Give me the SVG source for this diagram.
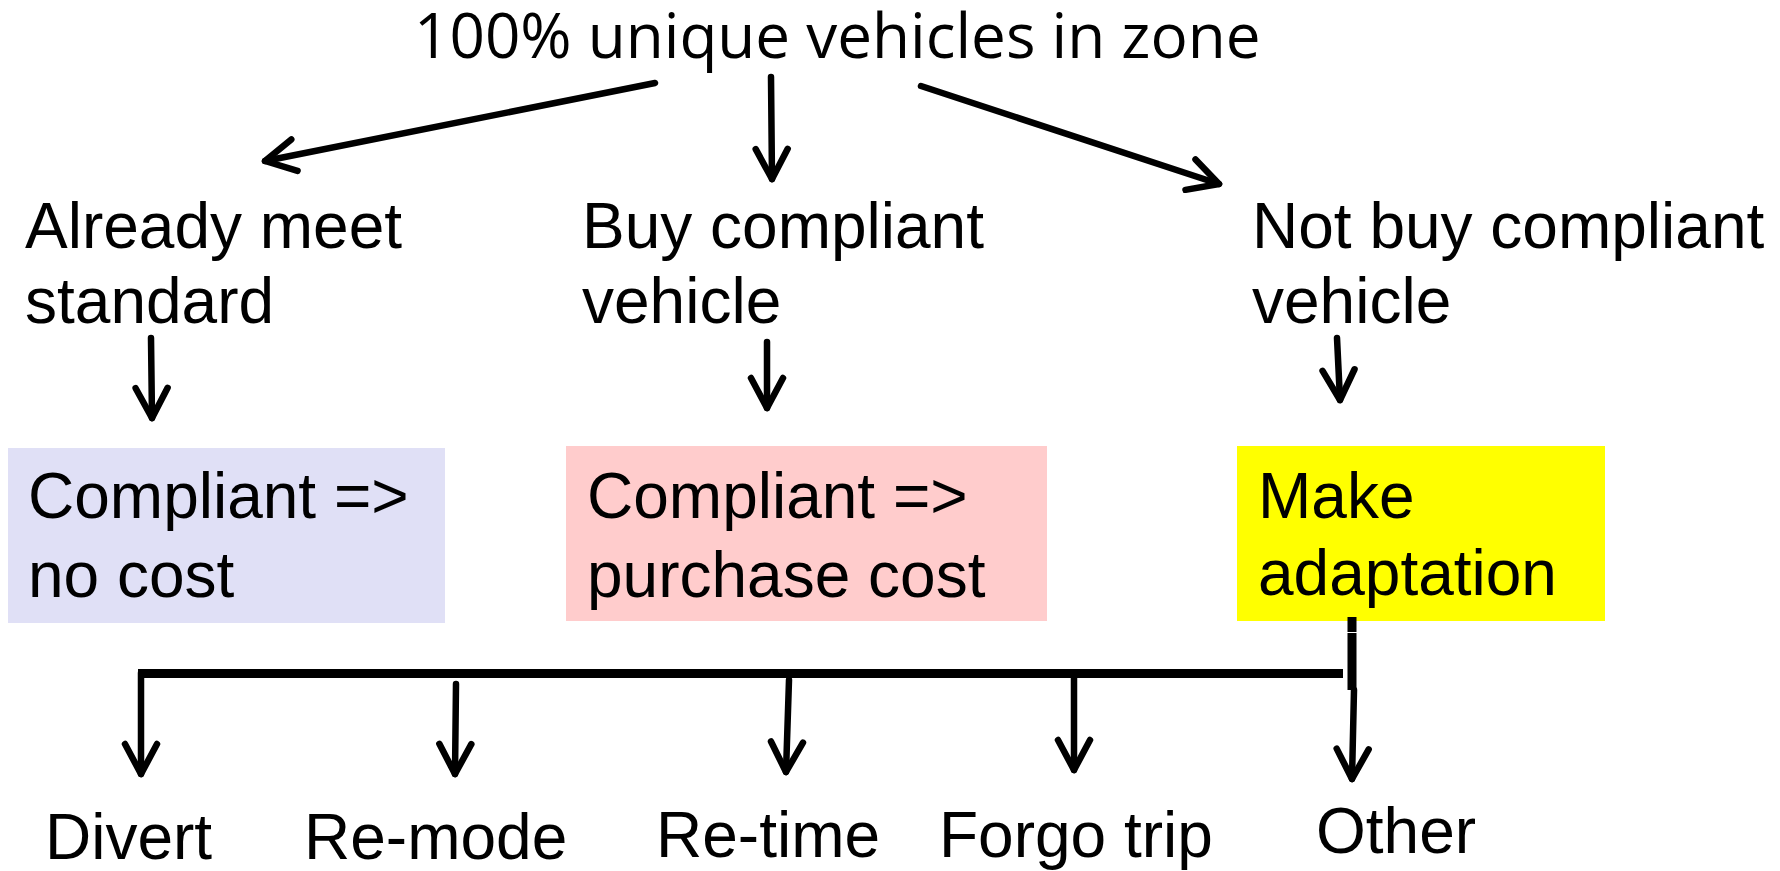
<svg xmlns="http://www.w3.org/2000/svg" width="1780" height="871" viewBox="0 0 1780 871">
<style>
text { font-family: "Liberation Sans", Arial, sans-serif; font-size: 64px; fill: #000; }
.title { font-family: "Open Sans", "Liberation Sans", sans-serif; font-size: 62px; }
.arrow { stroke: #000; stroke-width: 6.5; fill: none; stroke-linecap: round; marker-end: url(#head); }
.bar { fill: #000; }
</style>
<defs>
<marker id="head" markerUnits="userSpaceOnUse" viewBox="-40 -25 46 50" refX="0" refY="0" markerWidth="46" markerHeight="50" orient="auto" overflow="visible">
<path d="M-30,-16 L0,0 L-30,16" fill="none" stroke="#000" stroke-width="6.5" stroke-linecap="round" stroke-linejoin="round"/>
</marker>
</defs>
<g id="root"><text class="title" x="414" y="58">100% unique vehicles in zone</text></g>
<g id="already"><text x="25" y="248">Already meet</text><text x="25" y="323">standard</text></g>
<g id="buy"><text x="582" y="248">Buy compliant</text><text x="582" y="323">vehicle</text></g>
<g id="notbuy"><text x="1252" y="248">Not buy compliant</text><text x="1252" y="323">vehicle</text></g>
<g id="nocost"><rect x="8" y="448" width="437" height="175" fill="#E0E0F6"/><text x="28" y="518">Compliant =&gt;</text><text x="28" y="597">no cost</text></g>
<g id="purchase"><rect x="566" y="446" width="481" height="175" fill="#FFCCCC"/><text x="587" y="518">Compliant =&gt;</text><text x="587" y="597">purchase cost</text></g>
<g id="adapt"><rect x="1237" y="446" width="368" height="175" fill="#FFFF00"/><text x="1258" y="518">Make</text><text x="1258" y="595">adaptation</text></g>
<g id="divert"><text x="45" y="859">Divert</text></g>
<g id="remode"><text x="304" y="859">Re-mode</text></g>
<g id="retime"><text x="656" y="857">Re-time</text></g>
<g id="forgo"><text x="939" y="857">Forgo trip</text></g>
<g id="other"><text x="1316" y="853">Other</text></g>
<g id="connectors">
<path class="arrow" d="M655,83 L265,161"/>
<path class="arrow" d="M771,77 L772,179"/>
<path class="arrow" d="M921,86 L1219,184"/>
<path class="arrow" d="M151,338 L152,418"/>
<path class="arrow" d="M767,342 L767,408"/>
<path class="arrow" d="M1337,338 L1340,400"/>
<rect class="bar" x="1347.5" y="617" width="9" height="15"/>
<rect class="bar" x="1347.5" y="633" width="9" height="57"/>
<rect class="bar" x="138" y="669" width="1205" height="9"/>
<path class="arrow" d="M141,673 L141,774"/>
<path class="arrow" d="M456,684 L455,774"/>
<path class="arrow" d="M789,680 L786,772"/>
<path class="arrow" d="M1074,673 L1074,770"/>
<path class="arrow" d="M1354,690 L1352,779"/>
</g>
</svg>
